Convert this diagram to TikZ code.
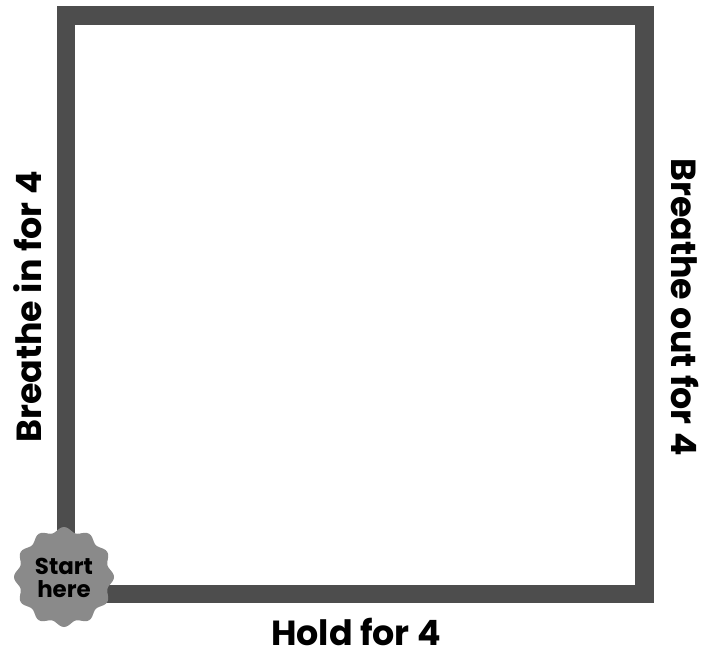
\documentclass[tikz,border=0pt]{standalone}
\usepackage{fontspec}
\setmainfont{Poppins}
\usetikzlibrary{positioning}
\definecolor{boxgray}{HTML}{4D4D4D}
\definecolor{badgegray}{HTML}{8A8A8A}
\tikzset{lbl/.style={font=\fontsize{35}{38}\selectfont\bfseries,inner sep=0pt,anchor=base,text depth=0pt}}
\begin{document}
\begin{tikzpicture}[x=1bp,y=-1bp]
\useasboundingbox(0,0)rectangle(702,655);
% the box
\draw[boxgray,line width=18.5bp](66,15.5)rectangle(644.5,594);
% start badge
\fill[badgegray,shift={(64,577)}]plot[domain=0:360,samples=145,smooth](\x:{47.5+2.5*cos(12*\x)})--cycle;
\node[font=\fontsize{23}{23}\selectfont\bfseries,align=center,inner sep=0pt](start)at(64,578){Start\\here};
% sides
\node[lbl,rotate=90](inhale)at(41,307){Breathe in for 4};
\node[lbl,rotate=-90](exhale)at(671,307){Breathe out for 4};
\node[lbl](hold)at(356,645){Hold for 4};
\end{tikzpicture}
\end{document}
